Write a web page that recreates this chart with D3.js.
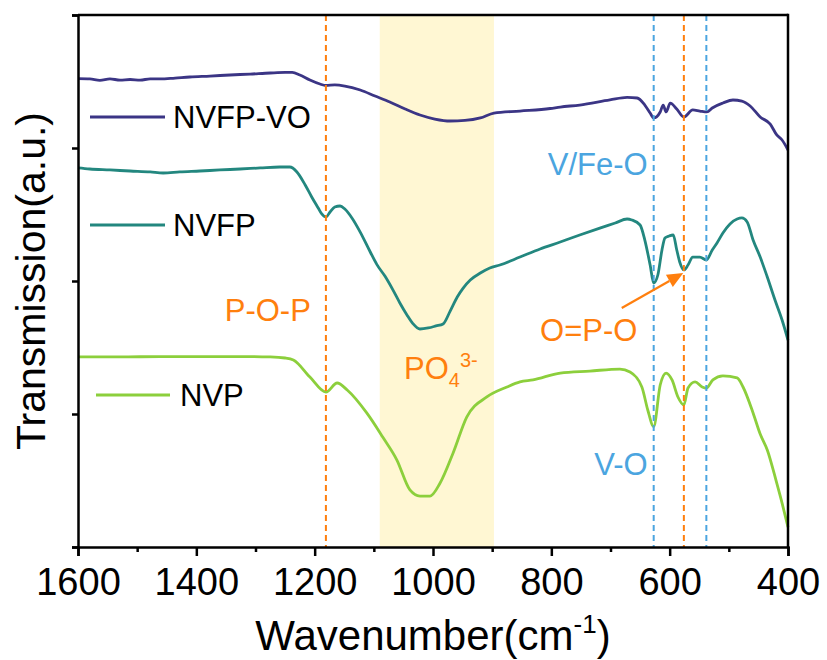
<!DOCTYPE html>
<html>
<head>
<meta charset="utf-8">
<script src="https://cdn.jsdelivr.net/npm/d3@7"></script>
<style>
  html, body { margin: 0; padding: 0; background: #fff; }
  svg { display: block; font-family: "Liberation Sans", Arial, sans-serif; }
</style>
</head>
<body>
<svg id="chart" width="827" height="660"></svg>
<script>
// FTIR spectra: wavenumber (cm-1) and transmission (a.u., offset per sample)
const nvfpvoWn = [1600,1580,1563,1546,1529,1512,1495,1478,1461,1436,1411,1377,1343,1309,1275,1250,1238,1225,1208,1191,1181,1166,1149,1123,1098,1073,1047,1022,997,971,946,920,897,853,802,785,752,701,672,655,642,633,627,616,611,606,599,588,576,561,549,537,528,510,493,478,464,447,430,419,410,400];
const nvfpvoT  = [3.521,3.519,3.508,3.519,3.511,3.515,3.511,3.519,3.519,3.526,3.534,3.541,3.549,3.556,3.564,3.568,3.568,3.549,3.511,3.481,3.470,3.474,3.466,3.436,3.391,3.346,3.293,3.248,3.218,3.203,3.207,3.226,3.263,3.278,3.297,3.308,3.323,3.361,3.380,3.376,3.323,3.263,3.226,3.271,3.323,3.271,3.338,3.293,3.233,3.286,3.278,3.271,3.301,3.338,3.361,3.353,3.316,3.233,3.180,3.098,3.060,2.985];

const nvfpWn = [1600,1580,1546,1512,1478,1456,1428,1394,1360,1326,1292,1259,1242,1230,1216,1205,1194,1188,1181,1174,1166,1157,1149,1137,1123,1106,1095,1081,1068,1056,1044,1034,1022,1008,995,983,971,959,949,937,920,904,887,853,819,785,752,718,692,672,664,650,642,633,627,620,613,608,601,594,588,583,576,569,561,549,538,528,520,510,498,486,478,469,459,447,435,422,410,400];
const nvfpT  = [2.850,2.842,2.835,2.827,2.820,2.812,2.820,2.827,2.835,2.842,2.850,2.857,2.857,2.820,2.722,2.632,2.549,2.504,2.481,2.519,2.556,2.564,2.541,2.474,2.368,2.218,2.125,2.035,1.935,1.835,1.745,1.680,1.639,1.647,1.662,1.677,1.774,1.880,1.947,2.008,2.060,2.098,2.120,2.180,2.241,2.293,2.346,2.398,2.436,2.466,2.459,2.421,2.308,2.120,1.985,2.045,2.233,2.323,2.338,2.346,2.233,2.143,2.083,2.120,2.180,2.180,2.158,2.233,2.286,2.361,2.429,2.466,2.474,2.444,2.308,2.180,2.030,1.857,1.707,1.556];

const nvpWn = [1600,1529,1461,1394,1326,1275,1250,1236,1208,1181,1162,1145,1112,1085,1061,1039,1022,1005,988,966,943,909,875,853,831,785,735,684,667,647,637,627,616,606,596,586,576,569,557,545,538,527,510,486,476,459,447,435,419,410,400];
const nvpT  = [1.429,1.429,1.432,1.432,1.432,1.429,1.421,1.406,1.278,1.165,1.233,1.180,1.008,0.827,0.654,0.429,0.383,0.383,0.481,0.707,0.977,1.128,1.203,1.241,1.256,1.308,1.323,1.338,1.316,1.203,1.030,0.905,1.218,1.308,1.256,1.128,1.068,1.195,1.241,1.203,1.195,1.256,1.286,1.271,1.203,1.008,0.850,0.730,0.480,0.330,0.150];

const seriesNames  = ["NVFP-VO", "NVFP", "NVP"];
const seriesColors = ["#3b3585", "#23877f", "#8ccf3c"];

const xTicks = [1600, 1400, 1200, 1000, 800, 600, 400];
const xMinorTicks = [1500, 1300, 1100, 900, 700, 500];
const yTicks = [0, 1, 2, 3, 4];

// band assignments
const pBands = [1181, 576];          // P-O-P, O=P-O
const mBands = [627, 538];           // V/Fe-O, V-O
const po4Range = [1090, 897];

const svg = d3.select("#chart");
const margin = {left: 78, top: 15, right: 39, bottom: 113};
const W = 827, H = 660;
const x = d3.scaleLinear().domain([1600, 400]).range([margin.left, W - margin.right]);
const y = d3.scaleLinear().domain([0, 4]).range([H - margin.bottom, margin.top]);

const orange = "#ff7f0e", blue = "#4ba5e0";
const font = "'Liberation Sans', Arial, sans-serif";

// PO4 band shading
svg.append("rect")
  .attr("x", x(po4Range[0])).attr("y", y(4))
  .attr("width", x(po4Range[1]) - x(po4Range[0]))
  .attr("height", y(0) - y(4))
  .attr("fill", "#fff7d3");

// spectra
const line = d3.line().x(d => x(d[0])).y(d => y(d[1])).curve(d3.curveMonotoneX);
const series = [
  d3.zip(nvfpvoWn, nvfpvoT),
  d3.zip(nvfpWn, nvfpT),
  d3.zip(nvpWn, nvpT)
];
series.forEach((s, i) => {
  svg.append("path").datum(s)
    .attr("d", line)
    .attr("fill", "none")
    .attr("stroke", seriesColors[i])
    .attr("stroke-width", 2.8)
    .attr("stroke-linejoin", "round");
});

// reference lines
const refLines = pBands.map(v => ({v, c: orange})).concat(mBands.map(v => ({v, c: blue})));
svg.selectAll("line.ref").data(refLines).enter().append("line")
  .attr("class", "ref")
  .attr("x1", d => x(d.v)).attr("x2", d => x(d.v))
  .attr("y1", y(4)).attr("y2", y(0))
  .attr("stroke", d => d.c)
  .attr("stroke-width", 2)
  .attr("stroke-dasharray", "6,4");

// axes
const axisW = 2.5;
const gx = svg.append("g").attr("transform", `translate(0,${y(0)})`)
  .call(d3.axisBottom(x).tickValues(xTicks).tickSize(9).tickPadding(12).tickFormat(d3.format("d")));
const gxm = svg.append("g").attr("transform", `translate(0,${y(0)})`)
  .call(d3.axisBottom(x).tickValues(xMinorTicks).tickSize(5).tickFormat(""));
const gy = svg.append("g").attr("transform", `translate(${x(1600)},0)`)
  .call(d3.axisLeft(y).tickValues(yTicks).tickSize(6).tickFormat(""));
[gx, gxm, gy].forEach(g => {
  g.select(".domain").attr("stroke", "#000").attr("stroke-width", axisW);
  g.selectAll(".tick line").attr("stroke", "#000").attr("stroke-width", axisW);
});
gxm.select(".domain").remove();
gx.selectAll(".tick text").attr("font-size", 38).attr("fill", "#000")
  .attr("font-family", font);

// top and right frame
svg.append("line").attr("x1", x(1600)).attr("x2", x(400)).attr("y1", y(4)).attr("y2", y(4))
  .attr("stroke", "#000").attr("stroke-width", axisW);
svg.append("line").attr("x1", x(400)).attr("x2", x(400)).attr("y1", y(4)).attr("y2", y(0))
  .attr("stroke", "#000").attr("stroke-width", axisW).attr("stroke-linecap", "square");

// axis titles
svg.append("text")
  .attr("transform", `translate(45,${(y(0) + y(4)) / 2}) rotate(-90)`)
  .attr("text-anchor", "middle").attr("font-size", 41).attr("fill", "#000")
  .attr("font-family", font)
  .text("Transmission(a.u.)");
const xt = svg.append("text")
  .attr("x", (x(1600) + x(400)) / 2).attr("y", 650)
  .attr("text-anchor", "middle").attr("font-size", 42).attr("fill", "#000")
  .attr("font-family", font);
xt.append("tspan").text("Wavenumber(cm");
xt.append("tspan").attr("dy", -17).attr("font-size", 26).text("-1");
xt.append("tspan").attr("dy", 17).text(")");

// legend
const legend = [
  {x1: 90, x2: 165, ty: 117, tx: 173},
  {x1: 90, x2: 165, ty: 225, tx: 173},
  {x1: 96, x2: 170, ty: 395, tx: 180}
];
legend.forEach((l, i) => {
  svg.append("line").attr("x1", l.x1).attr("x2", l.x2).attr("y1", l.ty).attr("y2", l.ty)
    .attr("stroke", seriesColors[i]).attr("stroke-width", 2.8);
  svg.append("text").attr("x", l.tx).attr("y", l.ty + 11)
    .attr("font-size", 31).attr("fill", "#000").attr("font-family", font)
    .text(seriesNames[i]);
});

// band labels
function label(wn, t, txt, color, anchor) {
  return svg.append("text").attr("x", x(wn)).attr("y", y(t))
    .attr("font-size", 31).attr("fill", color).attr("font-family", font)
    .attr("text-anchor", anchor || "start").text(txt);
}
label(1352, 1.699, "P-O-P", orange);
label(627, 2.795, "V/Fe-O", blue, "end").attr("dx", -6);
label(627, 0.541, "V-O", blue, "end").attr("dx", -6);
label(819, 1.549, "O=P-O", orange);

const po4 = svg.append("text").attr("x", x(1049)).attr("y", y(1.263))
  .attr("font-size", 31).attr("fill", orange).attr("font-family", font);
po4.append("tspan").text("PO");
po4.append("tspan").attr("dy", 8).attr("font-size", 20).text("4");
po4.append("tspan").attr("dy", -20).attr("font-size", 20).text("3-");

// arrow pointing at the O=P-O band of NVFP
const arrowFrom = [681, 1.797], arrowTo = [577, 2.06];
const ax1 = x(arrowFrom[0]), ay1 = y(arrowFrom[1]), ax2 = x(arrowTo[0]), ay2 = y(arrowTo[1]);
const ang = Math.atan2(ay2 - ay1, ax2 - ax1);
const headL = 16, headW = 7;
const bx = ax2 - headL * Math.cos(ang), by = ay2 - headL * Math.sin(ang);
svg.append("line").attr("x1", ax1).attr("y1", ay1).attr("x2", bx).attr("y2", by)
  .attr("stroke", orange).attr("stroke-width", 2.2);
svg.append("path")
  .attr("d", `M${ax2},${ay2} L${bx - headW * Math.sin(ang)},${by + headW * Math.cos(ang)} L${bx + headW * Math.sin(ang)},${by - headW * Math.cos(ang)} Z`)
  .attr("fill", orange);
</script>
</body>
</html>
